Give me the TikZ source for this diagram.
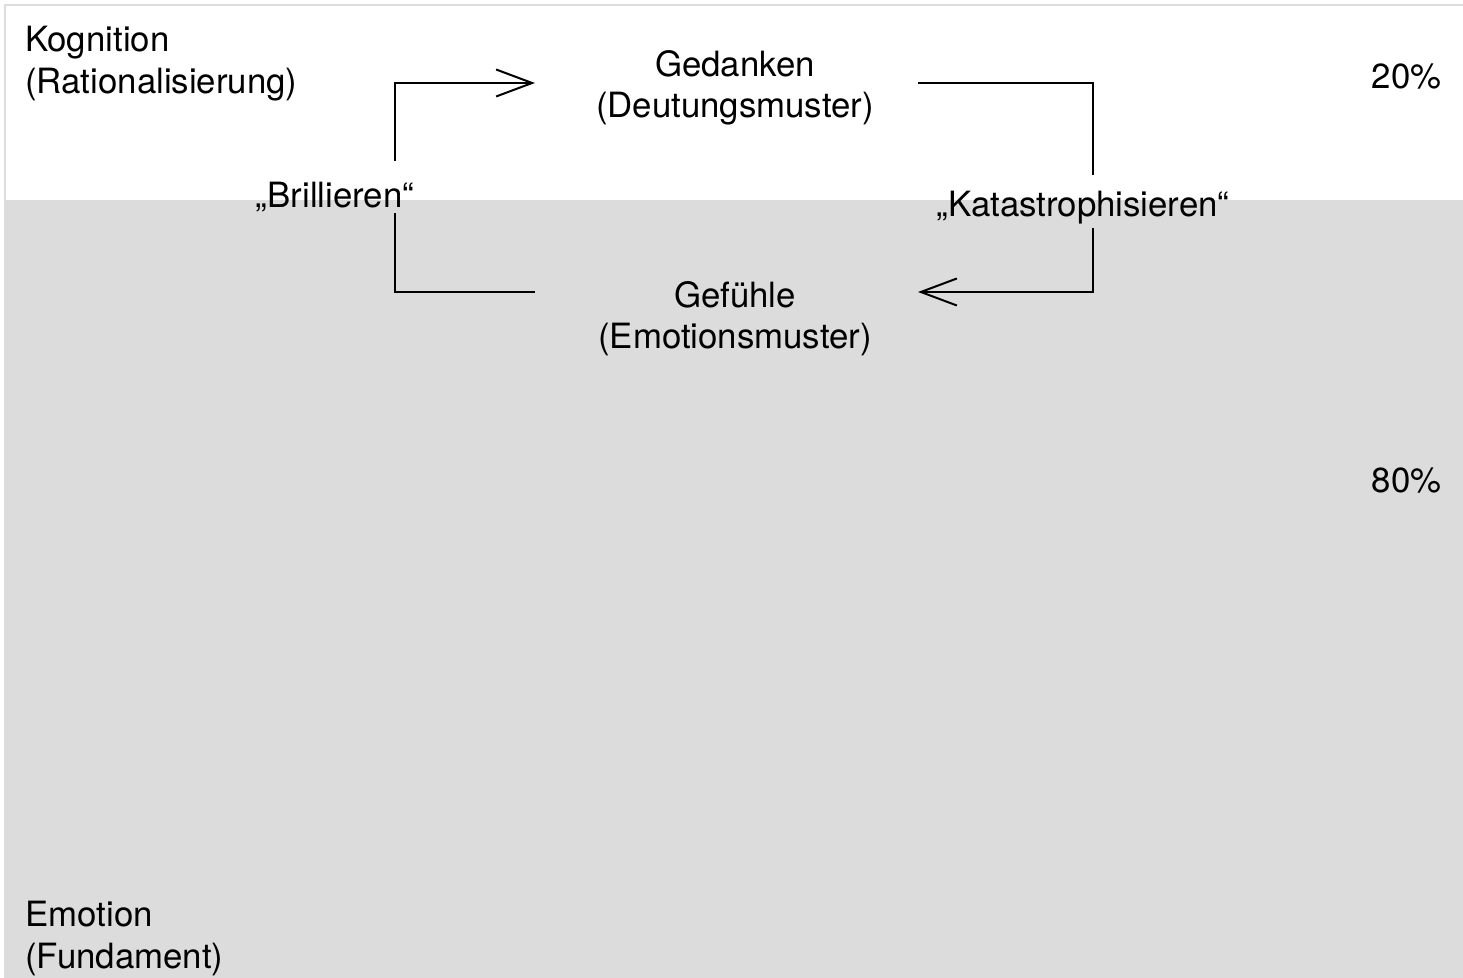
\documentclass[tikz,border=0pt]{standalone}
\usepackage{fontspec}
\setmainfont{TeX Gyre Heros}
\usetikzlibrary{arrows.meta,positioning}
\definecolor{layergray}{RGB}{220,220,220}

\begin{document}
\begin{tikzpicture}[x=0.5pt,y=-0.5pt,>={Straight Barb[length=18pt,width=13.5pt]},
 line cap=butt,line join=miter,
 txt/.style={font=\fontsize{17.4}{20.7}\selectfont,inner sep=0pt},
 flow/.style={line width=1pt}]
 \useasboundingbox (0,0) rectangle (1463,978);
 % Schichten
 \fill[layergray] (4,200) rectangle (1463,978);
 \draw[layergray,line width=1pt] (5,200) |- (1463,5);
 % Texte
 \node[txt,anchor=north west,align=left] (kog) at (25,26) {Kognition\\(Rationalisierung)};
 \node[txt,anchor=north west,align=left] (emo) at (25,901) {Emotion\\(Fundament)};
 \node[txt,anchor=north,align=center] (ged) at (735,50) {Gedanken\\(Deutungsmuster)};
 \node[txt,anchor=north,align=center] (gef) at (735,281) {Gefühle\\(Emotionsmuster)};
 \node[txt,anchor=base] (bril) at (335,208) {„Brillieren“};
 \node[txt,anchor=base] (kat) at (1083,217) {„Katastrophisieren“};
 \node[txt,anchor=base east] (pctTop) at (1442,89) {20\%};
 \node[txt,anchor=base east] (pctBot) at (1442,493) {80\%};
 % Kreislauf
 \coordinate (brilT) at (395,161);
 \coordinate (brilB) at (395,213);
 \coordinate (gedW) at (535,83);
 \coordinate (gefW) at (535,292);
 \coordinate (gedE) at (918,83);
 \coordinate (gefE) at (918,292);
 \coordinate (katT) at (1093,175);
 \coordinate (katB) at (1093,228);
 \draw[flow] (gefW) -| (brilB);
 \draw[flow,->] (brilT) |- (gedW);
 \draw[flow] (gedE) -| (katT);
 \draw[flow,->] (katB) |- (gefE);
\end{tikzpicture}
\end{document}
